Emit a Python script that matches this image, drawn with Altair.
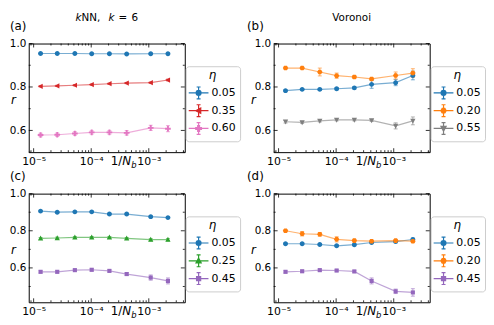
import altair as alt
import pandas as pd

# ---------------- data ----------------
X_VALS = [1.32e-5, 2.57e-5, 5.2e-5, 1.02e-4, 2.07e-4, 4.13e-4, 1.08e-3, 2.15e-3]

PA_ETA = ["0.05", "0.35", "0.60"]
PA_COLORS = ["#1f77b4", "#d62728", "#e377c2"]
PA_MARKERS = ["circle", "tri_left", "plus"]
PA_R = [
    [0.954, 0.954, 0.954, 0.953, 0.953, 0.952, 0.953, 0.953],
    [0.803, 0.805, 0.808, 0.811, 0.815, 0.818, 0.820, 0.832],
    [0.579, 0.580, 0.586, 0.591, 0.591, 0.589, 0.612, 0.608],
]
PA_ERR = [
    [0.002, 0.002, 0.002, 0.002, 0.002, 0.002, 0.002, 0.002],
    [0.003, 0.003, 0.003, 0.003, 0.003, 0.003, 0.003, 0.004],
    [0.008, 0.008, 0.008, 0.008, 0.008, 0.010, 0.012, 0.014],
]

PB_ETA = ["0.05", "0.20", "0.55"]
PB_COLORS = ["#1f77b4", "#ff7f0e", "#7f7f7f"]
PB_MARKERS = ["circle", "hexagon", "tri_down"]
PB_R = [
    [0.783, 0.789, 0.789, 0.792, 0.796, 0.812, 0.820, 0.853],
    [0.887, 0.887, 0.869, 0.852, 0.846, 0.837, 0.853, 0.864],
    [0.640, 0.637, 0.644, 0.649, 0.649, 0.646, 0.621, 0.644],
]
PB_ERR = [
    [0.004, 0.004, 0.005, 0.005, 0.006, 0.018, 0.014, 0.020],
    [0.005, 0.005, 0.018, 0.012, 0.007, 0.006, 0.016, 0.020],
    [0.006, 0.005, 0.005, 0.005, 0.005, 0.005, 0.014, 0.018],
]

PC_ETA = ["0.05", "0.25", "0.45"]
PC_COLORS = ["#1f77b4", "#2ca02c", "#9467bd"]
PC_MARKERS = ["circle", "tri_up", "square"]
PC_R = [
    [0.906, 0.900, 0.902, 0.902, 0.890, 0.890, 0.876, 0.871],
    [0.759, 0.761, 0.764, 0.764, 0.764, 0.759, 0.752, 0.752],
    [0.579, 0.579, 0.588, 0.590, 0.584, 0.567, 0.548, 0.530],
]
PC_ERR = [
    [0.004, 0.004, 0.004, 0.004, 0.004, 0.004, 0.004, 0.004],
    [0.005, 0.005, 0.005, 0.005, 0.005, 0.005, 0.006, 0.006],
    [0.006, 0.006, 0.006, 0.006, 0.006, 0.008, 0.014, 0.016],
]

PD_ETA = ["0.05", "0.20", "0.45"]
PD_COLORS = ["#1f77b4", "#ff7f0e", "#9467bd"]
PD_MARKERS = ["circle", "hexagon", "square"]
PD_R = [
    [0.730, 0.730, 0.726, 0.719, 0.725, 0.737, 0.742, 0.753],
    [0.800, 0.784, 0.781, 0.754, 0.747, 0.744, 0.747, 0.744],
    [0.579, 0.582, 0.588, 0.586, 0.581, 0.530, 0.474, 0.468],
]
PD_ERR = [
    [0.004, 0.004, 0.004, 0.004, 0.005, 0.006, 0.007, 0.008],
    [0.006, 0.012, 0.010, 0.014, 0.007, 0.006, 0.006, 0.007],
    [0.006, 0.006, 0.006, 0.006, 0.006, 0.016, 0.012, 0.020],
]

X_MAJOR = [1e-5, 1e-4, 1e-3]
X_MINOR = [9e-6, 2e-5, 3e-5, 4e-5, 5e-5, 6e-5, 7e-5, 8e-5, 9e-5,
           2e-4, 3e-4, 4e-4, 5e-4, 6e-4, 7e-4, 8e-4, 9e-4, 2e-3, 3e-3, 4e-3]
Y_MAJOR = [0.6, 0.8, 1.0]
Y_MINOR = [0.5, 0.7, 0.9]

# ---------------- styling ----------------
W, H = 158, 110
XDOM = [10 ** -5.085, 10 ** -2.375]
FONT = "DejaVu Sans"

MK = {
    "circle": "M0.31,0A0.31,0.31,0,1,1,-0.31,0A0.31,0.31,0,1,1,0.31,0Z",
    "tri_left": "M-0.36,0L0.27,-0.33L0.27,0.33Z",
    "plus": "M-0.12,-0.36H0.12V-0.12H0.36V0.12H0.12V0.36H-0.12V0.12H-0.36V-0.12H-0.12Z",
    "square": "M-0.26,-0.26H0.26V0.26H-0.26Z",
    "tri_up": "M0,-0.36L0.33,0.27L-0.33,0.27Z",
    "tri_down": "M0,0.36L0.33,-0.27L-0.33,-0.27Z",
    "hexagon": "M0.34,0L0.17,0.29L-0.17,0.29L-0.34,0L-0.17,-0.29L0.17,-0.29Z",
}
LEG_EXTRA = "M-1.25,0L1.25,0M0,-0.75L0,0.75M-0.25,-0.75L0.25,-0.75M-0.25,0.75L0.25,0.75"

ONE = alt.Data(values=[{}])


def txt(text, x, y, size=11, italic=False, align="left", baseline="alphabetic"):
    return alt.Chart(ONE).mark_text(
        text=text, fontSize=size, font=FONT,
        fontStyle="italic" if italic else "normal",
        align=align, baseline=baseline, color="black",
    ).encode(x=alt.value(x), y=alt.value(y))


def pick(eta, vals):
    expr = "'" + vals[-1] + "'"
    for e, v in reversed(list(zip(eta[:-1], vals[:-1]))):
        expr = "datum.value === '" + e + "' ? '" + v + "' : (" + expr + ")"
    return expr


def panel(eta, colors, markers, rvals, errs, ydom, title_layers, label, label_x, r_x):
    rows = []
    for e, rs, es in zip(eta, rvals, errs):
        for xv, rv, ev in zip(X_VALS, rs, es):
            rows.append({"x": xv, "r": rv, "lo": rv - ev, "hi": rv + ev, "eta": e})
    df = pd.DataFrame(rows)

    xs = alt.Scale(type="log", domain=XDOM, nice=False)
    ys = alt.Scale(domain=ydom, nice=False, zero=False)
    xaxis = alt.Axis(values=X_MAJOR, ticks=False, domain=False, grid=False, title=None,
                     labelExpr="datum.value < 5e-5 ? '10\u207b\u2075' : (datum.value < 5e-4 ? '10\u207b\u2074' : '10\u207b\u00b3')",
                     labelFontSize=11, labelFont=FONT, labelPadding=3, labelFlush=False,
                     labelOverlap=False, labelColor="black")
    yaxis = alt.Axis(values=Y_MAJOR, format=".1f", ticks=False, domain=False, grid=False,
                     title=None, labelFontSize=10.5, labelFont=FONT, labelPadding=3,
                     labelFlush=False, labelOverlap=False, labelColor="black")

    def X(f):
        return alt.X(f, type="quantitative", scale=xs, axis=xaxis)

    def Y(f):
        return alt.Y(f, type="quantitative", scale=ys, axis=yaxis)

    leg = alt.Legend(
        title="\u03b7", orient="none", legendX=W + 1, legendY=23, padding=4,
        strokeColor="#cccccc", fillColor="white", cornerRadius=3,
        symbolSize=256, symbolStrokeWidth=1.2, symbolOpacity=1,
        symbolType={"expr": pick(eta, [LEG_EXTRA + MK[m] for m in markers])},
        symbolStrokeColor={"expr": pick(eta, colors)},
        labelFontSize=11, labelFont=FONT, labelColor="black",
        titleFontSize=12, titleFont=FONT, titleFontStyle="italic", titleFontWeight="normal",
        titleColor="black", titleAnchor="middle", titleAlign="center", titlePadding=2,
        rowPadding=-2, labelOffset=4,
    )
    cscale = alt.Scale(domain=eta, range=colors)
    base = alt.Chart(df)

    lines, pts = [], []
    for e, c, m in zip(eta, colors, markers):
        sub = base.transform_filter(alt.datum.eta == e)
        lines.append(sub.mark_rule(strokeWidth=1, opacity=0.6, color=c).encode(
            x=X("x"), y=Y("lo"), y2=alt.Y2("hi")))
        lines.append(sub.mark_tick(orient="horizontal", size=4, thickness=1, opacity=0.6, color=c).encode(
            x=X("x"), y=Y("lo")))
        lines.append(sub.mark_tick(orient="horizontal", size=4, thickness=1, opacity=0.6, color=c).encode(
            x=X("x"), y=Y("hi")))
        lines.append(sub.mark_line(strokeWidth=1.2, opacity=0.6, color=c).encode(
            x=X("x"), y=Y("r")))
        pts.append(sub.mark_point(filled=True, size=256, opacity=1, shape=MK[m]).encode(
            x=X("x"), y=Y("r"), color=alt.Color("eta:N", scale=cscale, legend=leg)))

    xmaj = alt.Chart(pd.DataFrame({"v": X_MAJOR}))
    xmin = alt.Chart(pd.DataFrame({"v": X_MINOR}))
    ymaj = alt.Chart(pd.DataFrame({"v": Y_MAJOR}))
    ymin = alt.Chart(pd.DataFrame({"v": Y_MINOR}))
    tk = dict(color="black", strokeWidth=0.8)
    ticks = []
    for src, ln in ((xmaj, 4), (xmin, 2)):
        ticks.append(src.mark_rule(**tk).encode(x=X("v"), y=alt.value(H), y2=alt.value(H - ln)))
        ticks.append(src.mark_rule(**tk).encode(x=X("v"), y=alt.value(0), y2=alt.value(ln)))
    for src, ln in ((ymaj, 4), (ymin, 2)):
        ticks.append(src.mark_rule(**tk).encode(y=Y("v"), x=alt.value(0), x2=alt.value(ln)))
        ticks.append(src.mark_rule(**tk).encode(y=Y("v"), x=alt.value(W), x2=alt.value(W - ln)))

    texts = list(title_layers)
    texts.append(txt(label, label_x, -14, size=12))
    texts.append(txt("r", r_x, H / 2 + 2, size=12, italic=True, baseline="middle"))
    texts.append(txt("1/", 83, H + 13, size=12))
    texts.append(txt("N", 94.7, H + 13, size=12, italic=True))
    texts.append(txt("b", 103.7, H + 16, size=8.5, italic=True))

    return alt.layer(*lines, *pts, *ticks, *texts).properties(width=W, height=H)


def knn_title():
    f = 10.5
    wk, wNN, wsp, weq, w6 = 0.579 * f, 2.27 * f, 0.318 * f, 0.838 * f, 0.636 * f
    gap = 0.4 * f
    total = wk + wNN + wsp + wk + gap + weq + gap + w6
    x0 = W / 2 - total / 2
    y = -23
    xk2 = x0 + wk + wNN + wsp
    xeq = xk2 + wk + gap
    x6 = xeq + weq + gap
    return [
        txt("k", x0, y, size=f, italic=True),
        txt("NN,", x0 + wk, y, size=f),
        txt("k", xk2, y, size=f, italic=True),
        txt("=", xeq, y, size=f),
        txt("6", x6, y, size=f),
    ]


def vor_title():
    return [txt("Voronoi", W / 2, -23, size=10.5, align="center")]


pa = panel(PA_ETA, PA_COLORS, PA_MARKERS, PA_R, PA_ERR, [0.5, 1.0], knn_title(), "(a)", -19, -18)
pb = panel(PB_ETA, PB_COLORS, PB_MARKERS, PB_R, PB_ERR, [0.5, 1.0], vor_title(), "(b)", -27, -23)
pc = panel(PC_ETA, PC_COLORS, PC_MARKERS, PC_R, PC_ERR, [0.415, 1.0], [], "(c)", -19, -18)
pd_ = panel(PD_ETA, PD_COLORS, PD_MARKERS, PD_R, PD_ERR, [0.415, 1.0], [], "(d)", -27, -23)

chart = alt.concat(
    pa, pb, pc, pd_, columns=2, spacing={"row": 42, "column": 90}, bounds="flush",
    padding={"left": 0, "top": 2, "right": 0, "bottom": 0},
).resolve_scale(color="independent").resolve_legend(color="independent").configure(
    font=FONT).configure_view(stroke="black", strokeWidth=1)

chart.save("out.html", embed_options={"renderer": "svg", "actions": False})
